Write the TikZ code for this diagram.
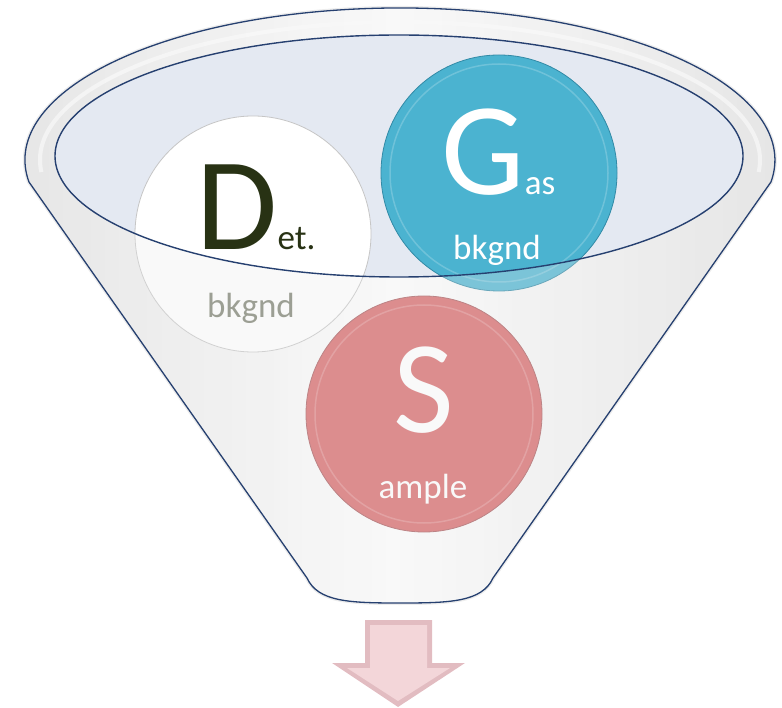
\documentclass[tikz,border=0pt]{standalone}
\usepackage{fontspec}
\setmainfont{Carlito}
\usepackage{xcolor}
\usepackage{tikz}
\usetikzlibrary{positioning}

\definecolor{rimline}{RGB}{38,64,112}
\definecolor{mouth}{RGB}{228,233,242}
\definecolor{gasblue}{RGB}{75,179,208}
\definecolor{gasedge}{RGB}{50,138,166}
\definecolor{smpred}{RGB}{214,100,102}
\definecolor{smpedge}{RGB}{168,88,90}
\definecolor{detink}{RGB}{40,50,20}
\definecolor{detgray}{RGB}{122,126,110}
\definecolor{arrowpink}{RGB}{243,214,217}
\definecolor{arrowedge}{RGB}{226,188,193}

\newcommand{\suffixtxt}[1]{{\fontsize{35}{35}\selectfont #1}}
\newcommand{\funnelpath}{(2.89,-18.19) arc[start angle=188.3,end angle=-8.3,x radius=37.5,y radius=15.2]
  -- (49.3,-57.8) .. controls (48.2,-60.2) and (45,-60.3) .. (40,-60.3)
  .. controls (35,-60.3) and (31.8,-60.2) .. (30.7,-57.8) -- cycle}

\begin{document}
\begin{tikzpicture}[x=10pt,y=10pt,
  ball/.style={circle,minimum size=236pt,inner sep=0pt,line width=0.8pt},
  big/.style={inner sep=0pt,anchor=base,font=\fontsize{132}{132}\selectfont},
  small/.style={inner sep=0pt,anchor=base,font=\fontsize{35}{35}\selectfont}]
  \useasboundingbox (0,0) rectangle (78.2,-70.8);
  \draw[gray!30,line width=4pt,opacity=0.5] \funnelpath;
  \shade[left color=gray!22,right color=gray!22,middle color=white] \funnelpath;
  \draw[white,line width=4pt,opacity=0.7] (40,-16)
    ++(185:36 and 13.8) arc[start angle=185,end angle=-5,x radius=36,y radius=13.8];
  \fill[mouth] (39.9,-15.6) ellipse[x radius=34.4,y radius=12.1];
  \foreach \n/\x/\y/\c/\e in {det/25.3/-23.4/white/gray!45,gas/49.9/-17.3/gasblue/gasedge,smp/42.4/-41.4/smpred/smpedge} {
    \node[ball,fill=\c,draw=\e] (\n) at (\x,\y) {};
    \draw[white,opacity=0.2,line width=1.5pt] (\n) circle (10.9);
  }
  \node[big,text=detink] (dtxt) at (25.6,-25.0) {D\suffixtxt{et.}};
  \node[small,text=detgray] (dsub) at (25.1,-31.8) {bkgnd};
  \node[big,text=white] (gtxt) at (49.85,-19.5) {G\suffixtxt{as}};
  \node[small,text=white] (gsub) at (49.7,-26.0) {bkgnd};
  \node[big,text=white] (stxt) at (42.4,-43.3) {S};
  \node[small,text=white] (ssub) at (42.3,-49.8) {ample};
  \fill[gray!15,opacity=0.3,even odd rule] \funnelpath (39.9,-15.6) ellipse[x radius=34.4,y radius=12.1];
  \draw[rimline,line width=1.4pt] (39.9,-15.6) ellipse[x radius=34.4,y radius=12.1];
  \draw[rimline,line width=1.3pt,line join=round] \funnelpath;
  \fill[arrowedge] (36.5,-62.0) -- (43.2,-62.0) -- (43.2,-66.3) -- (46.5,-66.3)
    -- (39.8,-70.7) -- (33.2,-66.3) -- (36.5,-66.3) -- cycle;
  \fill[arrowpink] (37.0,-62.5) -- (42.7,-62.5) -- (42.7,-66.8) -- (45.0,-66.8)
    -- (39.8,-70.1) -- (34.7,-66.8) -- (37.0,-66.8) -- cycle;
\end{tikzpicture}
\end{document}
